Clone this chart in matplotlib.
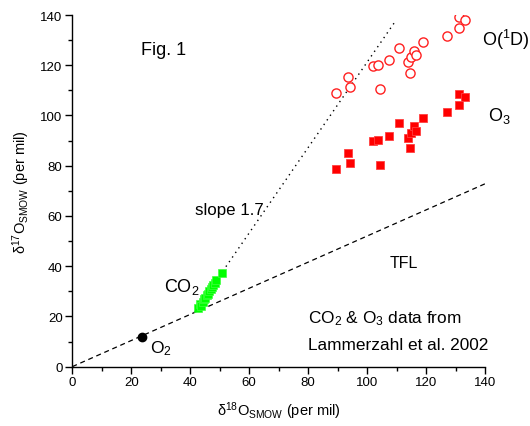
import matplotlib
matplotlib.use("Agg")
import matplotlib.pyplot as plt
import numpy as np

plt.rcParams['font.family'] = ['Liberation Sans', 'DejaVu Sans']
plt.rcParams['mathtext.fontset'] = 'custom'
plt.rcParams['mathtext.rm'] = 'Liberation Sans'
plt.rcParams['mathtext.it'] = 'Liberation Sans:italic'

# O(1D) open circles
o1d_x = [89.5, 94.2, 93.6, 104.4, 102.1, 103.6, 107.4, 110.8, 114.6, 113.8,
         114.9, 116.0, 116.5, 119.1, 127.0, 131.3, 131.3, 133.3]
o1d_y = [108.8, 111.2, 115.3, 110.5, 119.7, 120.2, 122.2, 126.8, 117.0, 121.1,
         123.4, 125.8, 124.1, 129.4, 131.5, 134.7, 139.1, 138.1]
# O3 filled squares
o3_x = [89.5, 94.2, 93.6, 104.4, 102.1, 103.6, 107.4, 110.8, 114.6, 113.8,
        114.9, 116.0, 116.5, 119.1, 127.0, 131.3, 131.2, 133.3]
o3_y = [78.8, 81.0, 85.1, 80.4, 89.7, 90.2, 91.9, 96.9, 87.0, 91.1,
        92.9, 95.7, 93.7, 99.1, 101.5, 104.2, 108.6, 107.5]
# CO2 green squares
co2_x = [42.8, 43.4, 43.6, 44.2, 44.6, 45.0, 45.6, 45.9, 46.5, 46.9, 47.4, 47.9, 48.4, 48.9, 50.7]
co2_y = [23.3, 24.8, 24.0, 25.6, 26.8, 27.2, 28.6, 28.9, 30.1, 30.9, 31.6, 32.4, 33.2, 34.4, 37.2]
# O2
o2_x = [23.5]
o2_y = [11.8]

# reference lines
tfl_x = [0, 140]
tfl_slope = 0.52
slope_x = [41.4, 109.2]
slope_y0 = 21.6
slope = 1.7

fig = plt.figure(figsize=(5.3, 4.27), dpi=100)
ax = fig.add_axes([0.1364, 0.139, 0.7787, 0.8235])

ax.plot(tfl_x, [tfl_slope * v for v in tfl_x], color='black', lw=0.9,
        linestyle=(0, (4, 3)), zorder=1)
ax.plot(slope_x, [slope_y0 + slope * (v - slope_x[0]) for v in slope_x],
        color='black', lw=1.0, linestyle=(0, (1, 3)), zorder=1)

ax.plot(o1d_x, o1d_y, linestyle='none', marker='o', markersize=6.6,
        markerfacecolor='white', markeredgecolor='#ff2020', markeredgewidth=1.0, zorder=3)
ax.plot(o3_x, o3_y, linestyle='none', marker='s', markersize=6.0,
        markerfacecolor='#ff0000', markeredgecolor='#ff4040', markeredgewidth=0.6, zorder=3)
ax.plot(co2_x, co2_y, linestyle='none', marker='s', markersize=5.2,
        markerfacecolor='#00ff00', markeredgecolor='#40ff40', markeredgewidth=0.5, zorder=2)
ax.plot(o2_x, o2_y, linestyle='none', marker='o', markersize=6.0,
        color='black', zorder=3)

ax.set_xlim(0, 140)
ax.set_ylim(0, 140)
ax.set_xticks(np.arange(0, 141, 20))
ax.set_yticks(np.arange(0, 141, 20))
ax.set_xticks(np.arange(10, 141, 20), minor=True)
ax.set_yticks(np.arange(10, 141, 20), minor=True)
ax.tick_params(which='major', direction='out', length=5, width=1, labelsize=9.5, pad=2)
ax.tick_params(which='minor', direction='out', length=3, width=1)
for s in ['top', 'right']:
    ax.spines[s].set_visible(False)
for s in ['left', 'bottom']:
    ax.spines[s].set_linewidth(1)

ax.set_xlabel(r'δ$^{18}$O$_{\mathrm{SMOW}}$ (per mil)', fontsize=10.5, labelpad=8)
ax.set_ylabel(r'δ$^{17}$O$_{\mathrm{SMOW}}$ (per mil)', fontsize=10.5, labelpad=6)

ax.text(30.8, 126.4, 'Fig. 1', fontsize=13, ha='center', va='center')
ax.text(139.0, 130.5, r'O($^{1}$D)', fontsize=13, ha='left', va='center', clip_on=False)
ax.text(141.0, 100.0, r'O$_{3}$', fontsize=13, ha='left', va='center', clip_on=False)
ax.text(41.5, 62.7, 'slope 1.7', fontsize=12.2, ha='left', va='center')
ax.text(107.5, 41.6, 'TFL', fontsize=11.5, ha='left', va='center')
ax.text(31.0, 32.0, r'CO$_{2}$', fontsize=13, ha='left', va='center')
ax.text(26.2, 7.5, r'O$_{2}$', fontsize=12.5, ha='left', va='center')
ax.text(80.0, 19.5, r'CO$_{2}$ & O$_{3}$ data from', fontsize=12.4, ha='left', va='center')
ax.text(80.0, 8.8, 'Lammerzahl et al. 2002', fontsize=12.4, ha='left', va='center', clip_on=False)

fig.savefig('out.png', dpi=100)
